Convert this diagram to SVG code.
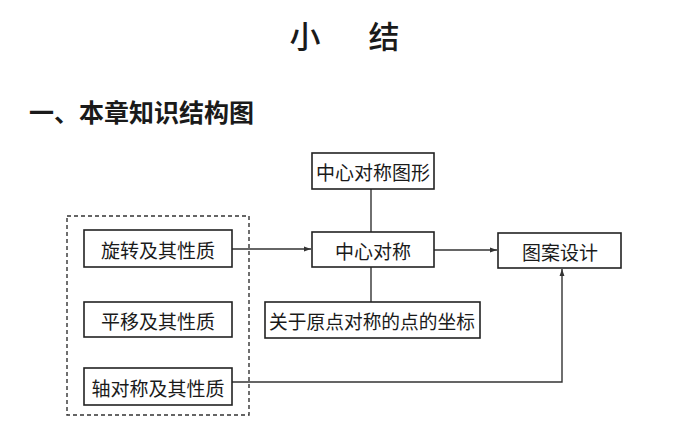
<svg xmlns="http://www.w3.org/2000/svg" width="700" height="433" viewBox="0 0 700 433">
<style>
text{font-family:"Noto Sans CJK SC","Noto Sans CJK JP",sans-serif;fill:#1a1a1a}
.lbl{font-size:19px;text-anchor:middle;dominant-baseline:central}
.box{fill:#fff;stroke:#222;stroke-width:1.6}
.ln{fill:none;stroke:#333;stroke-width:1.4}
</style>
<defs>
<marker id="ah" viewBox="0 0 10 10" refX="10" refY="5" markerWidth="7" markerHeight="7" orient="auto" markerUnits="userSpaceOnUse">
<path d="M0,1.5 L10,5 L0,8.5 Z" fill="#333"/>
</marker>
</defs>
<rect width="700" height="433" fill="#fff"/>
<text x="305" y="48" font-size="31" font-weight="500" text-anchor="middle">小</text>
<text x="384" y="48" font-size="31" font-weight="500" text-anchor="middle">结</text>
<text x="29" y="122" font-size="24.5" font-weight="bold" textLength="225" lengthAdjust="spacingAndGlyphs">一、本章知识结构图</text>
<rect id="group" x="67" y="216" width="182" height="199" fill="none" stroke="#333" stroke-width="1.4" stroke-dasharray="4,3"/>
<g id="connectors">
<line class="ln" x1="232" y1="249" x2="311" y2="249" marker-end="url(#ah)"/>
<line class="ln" x1="434" y1="250" x2="497" y2="250" marker-end="url(#ah)"/>
<line class="ln" x1="371" y1="189" x2="371" y2="232"/>
<line class="ln" x1="371" y1="267" x2="371" y2="302"/>
<polyline class="ln" points="232,382 562,382 562,269" marker-end="url(#ah)"/>
</g>
<g id="n1"><rect class="box" x="84" y="230" width="148" height="37"/><text class="lbl" x="158" y="249">旋转及其性质</text></g>
<g id="n2"><rect class="box" x="84" y="302" width="148" height="35"/><text class="lbl" x="158" y="320">平移及其性质</text></g>
<g id="n3"><rect class="box" x="84" y="368" width="148" height="37"/><text class="lbl" x="158" y="387">轴对称及其性质</text></g>
<g id="n4"><rect class="box" x="312" y="153" width="122" height="36"/><text class="lbl" x="373" y="171">中心对称图形</text></g>
<g id="n5"><rect class="box" x="312" y="232" width="122" height="35"/><text class="lbl" x="373" y="250">中心对称</text></g>
<g id="n6"><rect class="box" x="498" y="233" width="123" height="35"/><text class="lbl" x="560" y="251">图案设计</text></g>
<g id="n7"><rect class="box" x="265" y="302" width="215" height="36"/><text class="lbl" x="372" y="320" textLength="206" lengthAdjust="spacingAndGlyphs">关于原点对称的点的坐标</text></g>
</svg>
